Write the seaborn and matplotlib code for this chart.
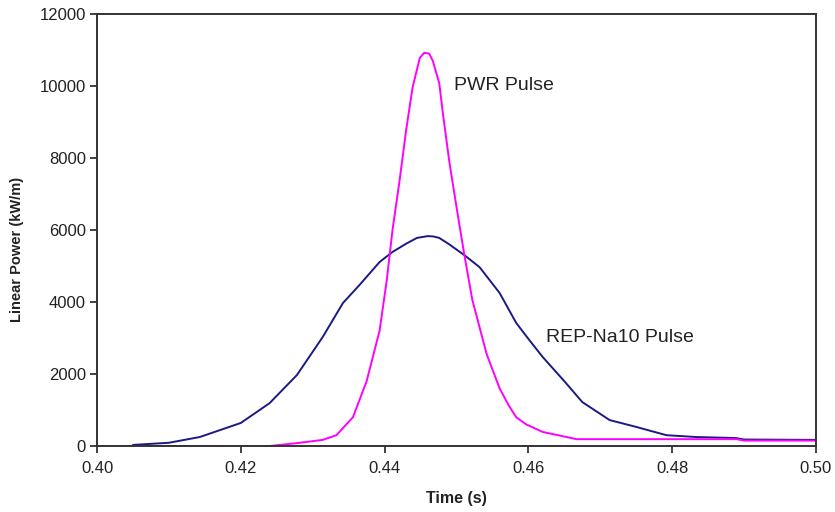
import matplotlib
matplotlib.use("Agg")
import matplotlib.pyplot as plt
import seaborn as sns
import pandas as pd
from matplotlib.ticker import FormatStrFormatter

# REP-Na10 pulse
rep_time = [0.405, 0.410, 0.4143, 0.420, 0.424, 0.4278, 0.4314, 0.4342, 0.4365, 0.4393,
            0.4411, 0.443, 0.4445, 0.446, 0.4468, 0.4476, 0.449, 0.4511, 0.4532, 0.456,
            0.4583, 0.4601, 0.462, 0.465, 0.4675, 0.4713, 0.475, 0.4792, 0.4833, 0.4889,
            0.490, 0.500]
rep_power = [30, 90, 250, 640, 1190, 1970, 3030, 3970, 4470, 5110,
             5390, 5620, 5780, 5830, 5820, 5780, 5600, 5300, 4970, 4250,
             3420, 2950, 2470, 1800, 1220, 720, 530, 300, 250, 220,
             180, 170]

# PWR pulse
pwr_time = [0.400, 0.424, 0.4278, 0.4314, 0.4333, 0.4356, 0.4375, 0.4393, 0.4403, 0.4411,
            0.4421, 0.443, 0.4439, 0.4449, 0.4455, 0.4462, 0.4467, 0.4476, 0.4481, 0.449,
            0.450, 0.4511, 0.4522, 0.4542, 0.456, 0.4572, 0.4583, 0.4597, 0.462, 0.4653,
            0.4667, 0.489, 0.490, 0.500]
pwr_power = [0, 0, 80, 170, 300, 800, 1800, 3200, 4600, 6000,
             7400, 8780, 9970, 10780, 10920, 10900, 10700, 10080, 9250, 7900,
             6640, 5300, 4060, 2550, 1600, 1150, 800, 600, 390, 250,
             190, 190, 150, 150]

x_ticks = [0.40, 0.42, 0.44, 0.46, 0.48, 0.50]
y_ticks = [0, 2000, 4000, 6000, 8000, 10000, 12000]

sns.set_theme(style="white")
plt.rcParams['font.family'] = ['Liberation Sans', 'DejaVu Sans']

fig = plt.figure(figsize=(8.35, 5.12), dpi=100)
ax = fig.add_axes([0.1162, 0.1289, 0.8610, 0.8438])

rep_df = pd.DataFrame({"t": rep_time, "p": rep_power})
pwr_df = pd.DataFrame({"t": pwr_time, "p": pwr_power})

sns.lineplot(data=rep_df, x="t", y="p", ax=ax, color="#1a1a84", linewidth=1.4,
             estimator=None, sort=False)
sns.lineplot(data=pwr_df, x="t", y="p", ax=ax, color="#ff00ff", linewidth=1.4,
             estimator=None, sort=False)

ax.set_xlim(0.40, 0.50)
ax.set_ylim(0, 12000)
ax.set_xticks(x_ticks)
ax.set_yticks(y_ticks)
ax.xaxis.set_major_formatter(FormatStrFormatter('%.2f'))
ax.yaxis.set_major_formatter(FormatStrFormatter('%d'))

ax.tick_params(axis='both', direction='out', length=5, width=1.2, color='#222222',
               labelsize=12, labelcolor='#222222', pad=3)
ax.tick_params(axis='x', bottom=True, pad=6)
ax.tick_params(axis='y', left=True)

for s in ax.spines.values():
    s.set_visible(True)
    s.set_color('#333333')
    s.set_linewidth(1.4)

ax.set_xlabel("Time (s)", fontsize=11.5, fontweight='bold', color='#222222')
ax.set_ylabel("Linear Power (kW/m)", fontsize=10.5, fontweight='bold', color='#222222')
ax.xaxis.set_label_coords(0.5, -0.105)
ax.yaxis.set_label_coords(-0.101, 0.456)

ax.text(0.4497, 10020, "PWR Pulse", fontsize=14, color='#222222', ha='left', va='center')
ax.text(0.4625, 3020, "REP-Na10 Pulse", fontsize=14, color='#222222', ha='left', va='center')

fig.savefig("out.png", dpi=100)
